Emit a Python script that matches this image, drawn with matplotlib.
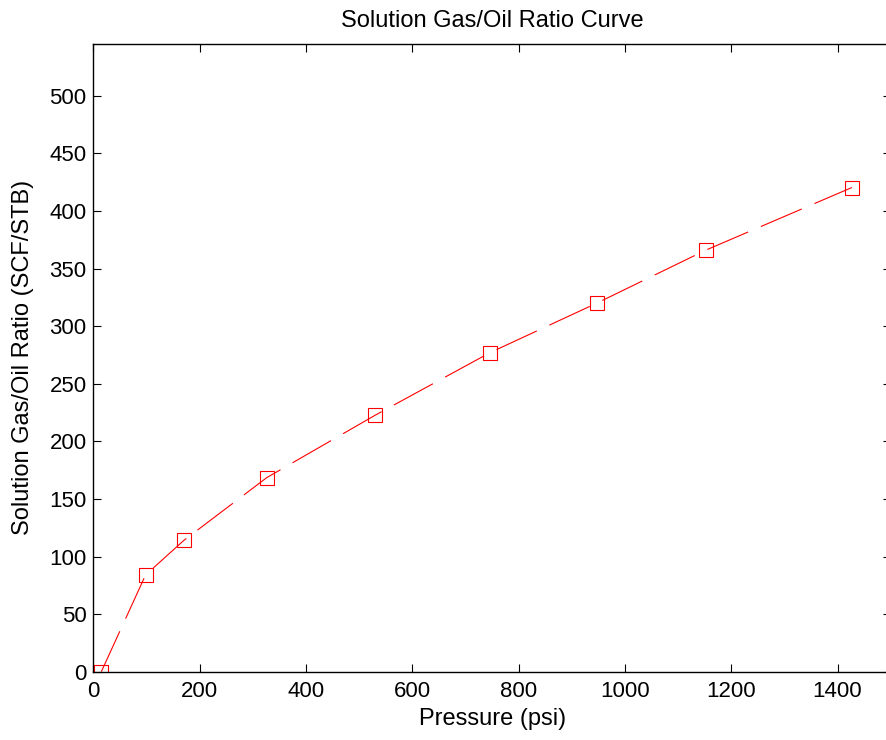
import matplotlib
matplotlib.use("Agg")
import matplotlib.pyplot as plt

pressure = [14.7, 98, 170, 326, 530, 746, 947, 1152, 1427]
rs = [0, 84, 114, 168.5, 222.7, 277, 320, 366, 420.4]

plt.rcParams['font.family'] = ['Liberation Sans', 'DejaVu Sans']
plt.rcParams['lines.scale_dashes'] = False

fig = plt.figure(figsize=(8.87, 7.40), dpi=100)
ax = fig.add_axes([93.5/887, 1-671.7/740, (890.7-93.5)/887, (671.7-44)/740])

ax.plot(pressure, rs, color='red', lw=0.8, dashes=(32, 10),
        marker='s', ms=10.5, mfc='none', mec='red', mew=0.8)

ax.set_xlim(0, 1500)
ax.set_ylim(0, 545)
ax.set_xticks(range(0, 1401, 200))
ax.set_yticks(range(0, 501, 50))
ax.tick_params(axis='both', direction='in', length=6, width=0.8, top=True, right=True,
               labelsize=16)
ax.tick_params(axis='x', pad=7)
ax.tick_params(axis='y', pad=5)
for s in ax.spines.values():
    s.set_linewidth(1.0)
ax.set_title('Solution Gas/Oil Ratio Curve', fontsize=17, pad=12)
ax.set_xlabel('Pressure (psi)', fontsize=17, labelpad=4)
ax.set_ylabel('Solution Gas/Oil Ratio (SCF/STB)', fontsize=17, labelpad=11)

fig.savefig('out.png', dpi=100)
